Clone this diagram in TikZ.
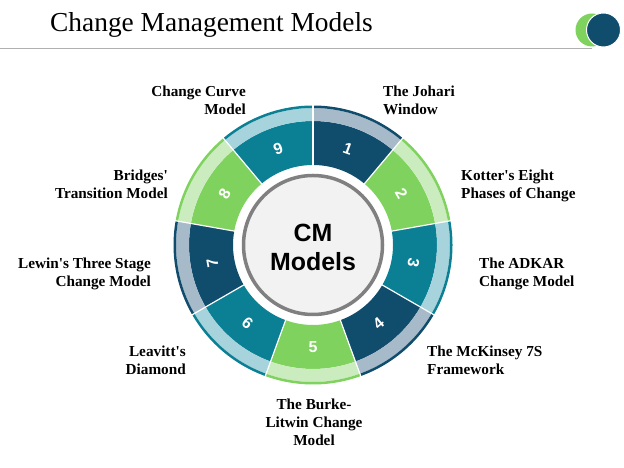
\documentclass[tikz,border=0pt]{standalone}
\usepackage{fontspec}
\setmainfont{Liberation Serif}
\newfontfamily\cmsans{Liberation Sans}
\definecolor{cmdark}{RGB}{16,76,108}
\definecolor{cmdarklt}{RGB}{166,186,202}
\definecolor{cmteal}{RGB}{11,128,148}
\definecolor{cmteallt}{RGB}{166,211,220}
\definecolor{cmgreen}{RGB}{126,210,93}
\definecolor{cmgreenlt}{RGB}{203,236,190}
\definecolor{hubfill}{RGB}{242,242,242}
\definecolor{hubline}{RGB}{128,128,128}
\definecolor{rulegray}{RGB}{176,176,176}
\usepackage{tikz}
\usetikzlibrary{positioning}

\begin{document}
\begin{tikzpicture}[x=1bp,y=1bp,
    model/.style={font=\bfseries\fontsize{15.3}{18}\selectfont, inner sep=0pt},
    segnum/.style={font=\cmsans\bfseries\fontsize{16}{16}\selectfont, text=white, inner sep=0pt}]
  \useasboundingbox (0,0) rectangle (624,468);
  \node[font=\fontsize{27.5}{33}\selectfont, anchor=base west, inner sep=0pt] (title) at (50,436) {Change Management Models};
  \draw[rulegray, line width=1bp] (0,419) -- (592,419);
  \fill[cmgreen] (592,438) circle (16.5);
  \draw[white, fill=cmdark, line width=1bp] (603.5,438) circle (17);
  \begin{scope}[shift={(313,223)}]
    \foreach \i/\main/\band in {1/cmdark/cmdarklt, 2/cmgreen/cmgreenlt, 3/cmteal/cmteallt,
        4/cmdark/cmdarklt, 5/cmgreen/cmgreenlt, 6/cmteal/cmteallt,
        7/cmdark/cmdarklt, 8/cmgreen/cmgreenlt, 9/cmteal/cmteallt} {
      \pgfmathsetmacro{\angA}{130-40*\i}
      \pgfmathsetmacro{\angB}{\angA-40}
      \pgfmathsetmacro{\angM}{\angA-20}
      \pgfmathsetmacro{\numrot}{(\i>3 && \i<7) ? \angM+90 : \angM-90}
      \fill[\main] (\angA:80) arc[start angle=\angA, end angle=\angB, radius=80]
        -- (\angB:124) arc[start angle=\angB, end angle=\angA, radius=124] -- cycle;
      \fill[\band] (\angA:124) arc[start angle=\angA, end angle=\angB, radius=124]
        -- (\angB:137) arc[start angle=\angB, end angle=\angA, radius=137] -- cycle;
      \fill[\main] (\angA:137) arc[start angle=\angA, end angle=\angB, radius=137]
        -- (\angB:139.5) arc[start angle=\angB, end angle=\angA, radius=139.5] -- cycle;
      \node[segnum, rotate=\numrot] (num\i) at (\angM:102) {\i};
    }
    \foreach \k in {0,...,8}
      \draw[white, line width=1.2bp] ({90-40*\k}:79) -- ({90-40*\k}:141);
    \draw[hubline, fill=hubfill, line width=3.5bp] (0,0) circle (69.5);
    \node[font=\cmsans\bfseries\fontsize{25}{29}\selectfont, align=center] (hub) at (0,-2.5) {CM\\Models};
  \end{scope}
  \node[model, anchor=north east, align=right] (curve) at (246,382.5) {Change Curve\\Model};
  \node[model, anchor=north west, align=left] (johari) at (383,382.5) {The Johari\\Window};
  \node[model, anchor=north west, align=left] (kotter) at (461,298.5) {Kotter\textquotesingle s Eight\\Phases of Change};
  \node[model, anchor=north west, align=left] (adkar) at (479,210.5) {The ADKAR\\Change Model};
  \node[model, anchor=north west, align=left] (mckinsey) at (427,122.5) {The McKinsey 7S\\Framework};
  \node[model, anchor=north, align=center] (burke) at (314,69.5) {The Burke-\\Litwin Change\\Model};
  \node[model, anchor=north east, align=right] (leavitt) at (186,122.5) {Leavitt\textquotesingle s\\Diamond};
  \node[model, anchor=north east, align=right] (lewin) at (151,210.5) {Lewin\textquotesingle s Three Stage\\Change Model};
  \node[model, anchor=north east, align=right] (bridges) at (168,298.5) {Bridges\textquotesingle\\Transition Model};
\end{tikzpicture}
\end{document}
